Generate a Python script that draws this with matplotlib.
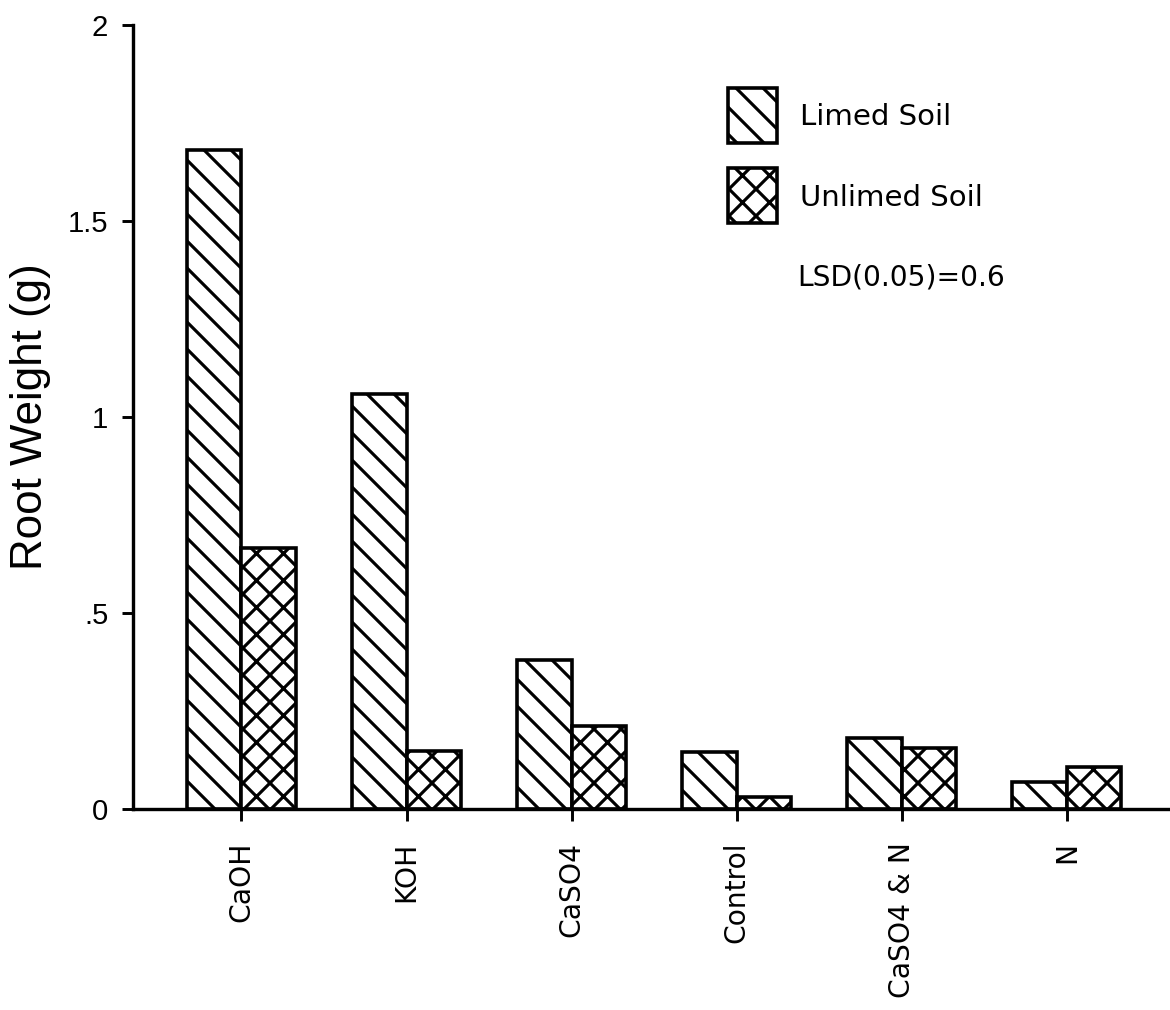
import numpy as np
import matplotlib
matplotlib.use("Agg")
import matplotlib.pyplot as plt
from matplotlib.patches import Rectangle

# values
treatments = ["CaOH", "KOH", "CaSO4", "Control", "CaSO4 & N", "N"]
limed = [1.68, 1.058, 0.38, 0.146, 0.18, 0.069]
unlimed = [0.667, 0.149, 0.212, 0.031, 0.156, 0.106]
yticks = [0, 0.5, 1, 1.5, 2]
yticklabels = ["0", ".5", "1", "1.5", "2"]

plt.rcParams["hatch.linewidth"] = 1.4
plt.rcParams["font.family"] = "DejaVu Sans"

dpi = 162
fig = plt.figure(figsize=(1170 / dpi, 1010 / dpi), dpi=dpi)
ax = fig.add_axes([133 / 1170, 1 - 809 / 1010, 1035 / 1170, 784 / 1010])

x = np.arange(len(treatments))
w = 0.33
ax.bar(x - w / 2, limed, w, color="white", edgecolor="black", linewidth=1.6, hatch="\\\\")
ax.bar(x + w / 2, unlimed, w, color="white", edgecolor="black", linewidth=1.6, hatch="xx")

ax.set_xlim(-0.657, 5.612)
ax.set_ylim(0, 2)

for s in ["top", "right"]:
    ax.spines[s].set_visible(False)
for s in ["left", "bottom"]:
    ax.spines[s].set_linewidth(1.5)

ax.set_yticks(yticks)
ax.set_yticklabels(yticklabels)
ax.tick_params(axis="y", length=5, width=1.3, pad=6, labelsize=13)
for lab in ax.get_yticklabels():
    lab.set_fontfamily("Liberation Sans")

ax.set_xticks(x)
ax.set_xticklabels(treatments, rotation=90, va="top")
ax.tick_params(axis="x", length=5.5, width=1.3, pad=9, labelsize=12.5)

ax.set_ylabel("Root Weight (g)", fontfamily="Liberation Sans", fontsize=19.5)
ax.yaxis.set_label_coords(-0.079, 0.5)

# legend drawn by hand
ax.add_patch(Rectangle((0.575, 0.8495), 0.0473, 0.0702, transform=ax.transAxes,
                       facecolor="white", edgecolor="black", linewidth=1.6, hatch="\\\\", clip_on=False))
ax.add_patch(Rectangle((0.575, 0.7474), 0.0473, 0.0702, transform=ax.transAxes,
                       facecolor="white", edgecolor="black", linewidth=1.6, hatch="xx", clip_on=False))
ax.text(0.6444, 0.8827, "Limed Soil", transform=ax.transAxes, fontsize=13, va="center")
ax.text(0.6444, 0.7793, "Unlimed Soil", transform=ax.transAxes, fontsize=13, va="center")
ax.text(0.6415, 0.6773, "LSD(0.05)=0.6", transform=ax.transAxes, fontsize=12.5, va="center")

fig.savefig("out.png", dpi=dpi)
